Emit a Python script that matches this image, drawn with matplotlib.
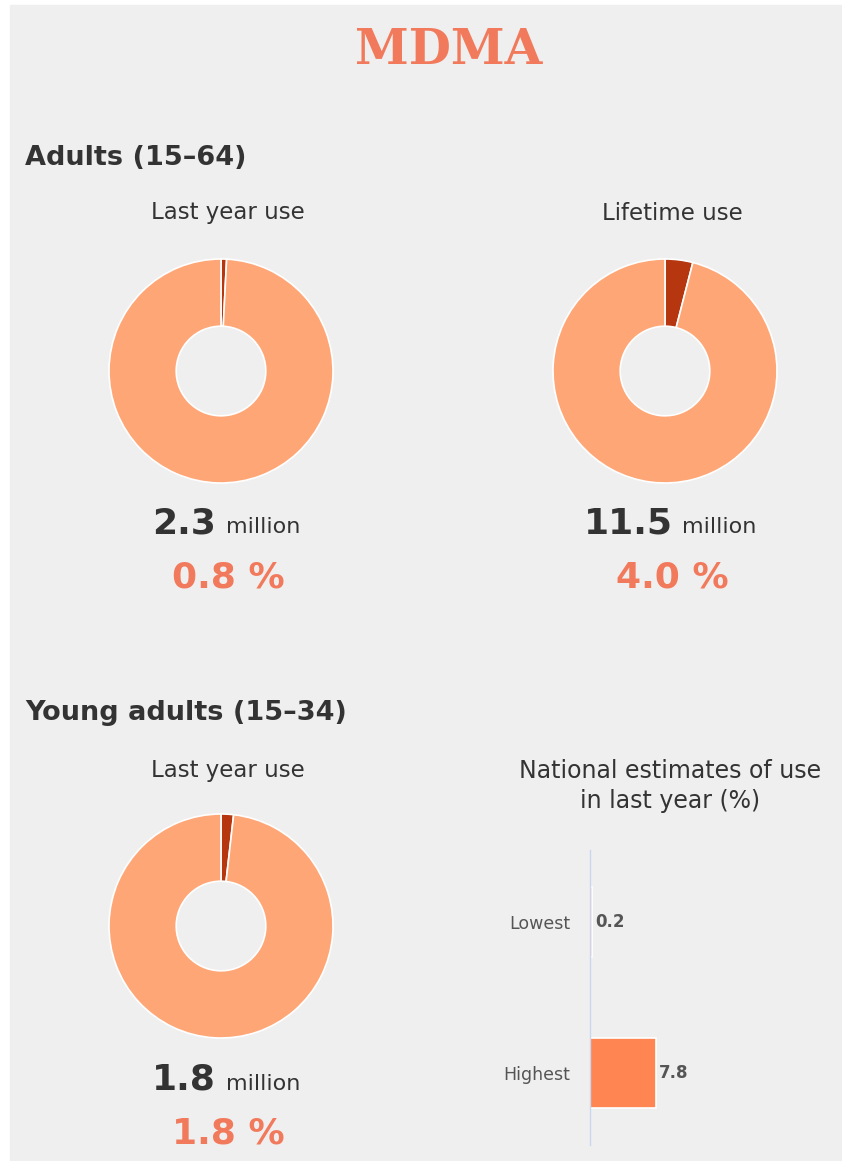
import matplotlib

matplotlib.use("Agg")
import matplotlib.pyplot as plt
from matplotlib.patches import Rectangle
from matplotlib.offsetbox import TextArea, HPacker, AnnotationBbox

W, H = 842, 1161

BG = "#efefef"
DARK = "#333333"
GREY = "#555555"
SALMON = "#f27a5c"
LIGHT = "#ffa676"
RED = "#b5360f"
BAR = "#ff8552"
AXIS = "#c9d6ee"

# data
donut_titles = ["Last year use", "Lifetime use", "Last year use"]
donut_pcts = [0.8, 4.0, 1.8]
donut_millions = [2.3, 11.5, 1.8]
bar_cats = ["Lowest", "Highest"]
bar_vals = [0.2, 7.8]

plt.rcParams["font.family"] = ["DejaVu Sans"]


def fx(x):
    return x / W


def fy(y):
    return 1 - y / H


fig = plt.figure(figsize=(W / 100, H / 100), dpi=100, facecolor="white")
fig.patches.append(Rectangle((fx(10), 0), 1 - fx(10), fy(5), transform=fig.transFigure,
                             color=BG, zorder=-10))

fig.text(fx(449), fy(50), "MDMA", ha="center", va="center", fontsize=35,
         fontweight="bold", family=["DejaVu Serif", "Liberation Serif"], color=SALMON)

fig.text(fx(25), fy(158), "Adults (15\u201364)", ha="left", va="center",
         fontsize=19.5, fontweight="bold", color=DARK)
fig.text(fx(25), fy(713), "Young adults (15\u201334)", ha="left", va="center",
         fontsize=19.5, fontweight="bold", color=DARK)

# donut centres (px), title y, number y, pct y
slots = [(221, 371, 213, 523, 578), (665, 371, 213, 523, 578), (221, 926, 770, 1080, 1133)]

for (cx, cy, ty, ny, py), title, pct, mil in zip(slots, donut_titles, donut_pcts, donut_millions):
    half = 140
    ax = fig.add_axes([fx(cx - half), fy(cy + half), 2 * half / W, 2 * half / H])
    ax.pie([pct, 100 - pct], colors=[RED, LIGHT], startangle=90, counterclock=False,
           radius=1, wedgeprops=dict(width=0.6, edgecolor="white", linewidth=1.2))
    ax.set_xlim(-1.25, 1.25)
    ax.set_ylim(-1.25, 1.25)
    ax.set_aspect("equal")
    ax.axis("off")

    fig.text(fx(cx + 7), fy(ty), title, ha="center", va="center", fontsize=16.5, color=DARK)

    num = TextArea(f"{mil:.1f}", textprops=dict(fontsize=26, fontweight="bold", color=DARK))
    unit = TextArea("million", textprops=dict(fontsize=16, color=DARK))
    box = HPacker(children=[num, unit], align="baseline", pad=0, sep=7)
    ab = AnnotationBbox(box, (fx(cx + 5), fy(ny)), xycoords="figure fraction",
                        frameon=False, box_alignment=(0.5, 0.5))
    fig.add_artist(ab)

    fig.text(fx(cx + 7), fy(py), f"{pct:.1f} %", ha="center", va="center",
             fontsize=26, fontweight="bold", color=SALMON)

# national estimates
fig.text(fx(670), fy(786), "National estimates of use\nin last year (%)", ha="center",
         va="center", fontsize=17, color=DARK, linespacing=1.3)

bx = fig.add_axes([fx(590), fy(1145), 211.5 / W, 295 / H])
bx.set_facecolor("none")
ypos = list(range(len(bar_cats)))
bx.barh(ypos, bar_vals, height=0.46, color=BAR, edgecolor="white", linewidth=1.2)
bx.set_xlim(0, 25)
bx.set_ylim(1.477, -0.477)
for s in ["top", "right", "bottom"]:
    bx.spines[s].set_visible(False)
bx.spines["left"].set_color(AXIS)
bx.spines["left"].set_linewidth(1)
bx.set_xticks([])
bx.set_yticks(ypos)
bx.set_yticklabels(bar_cats, fontsize=12.5, color=GREY)
bx.tick_params(axis="y", length=0, pad=14)
for yi, v in zip(ypos, bar_vals):
    bx.text(v + 0.4, yi, f"{v:.1f}", ha="left", va="center", fontsize=12,
            fontweight="bold", color=GREY)

fig.savefig("out.png", dpi=100, facecolor=fig.get_facecolor())
